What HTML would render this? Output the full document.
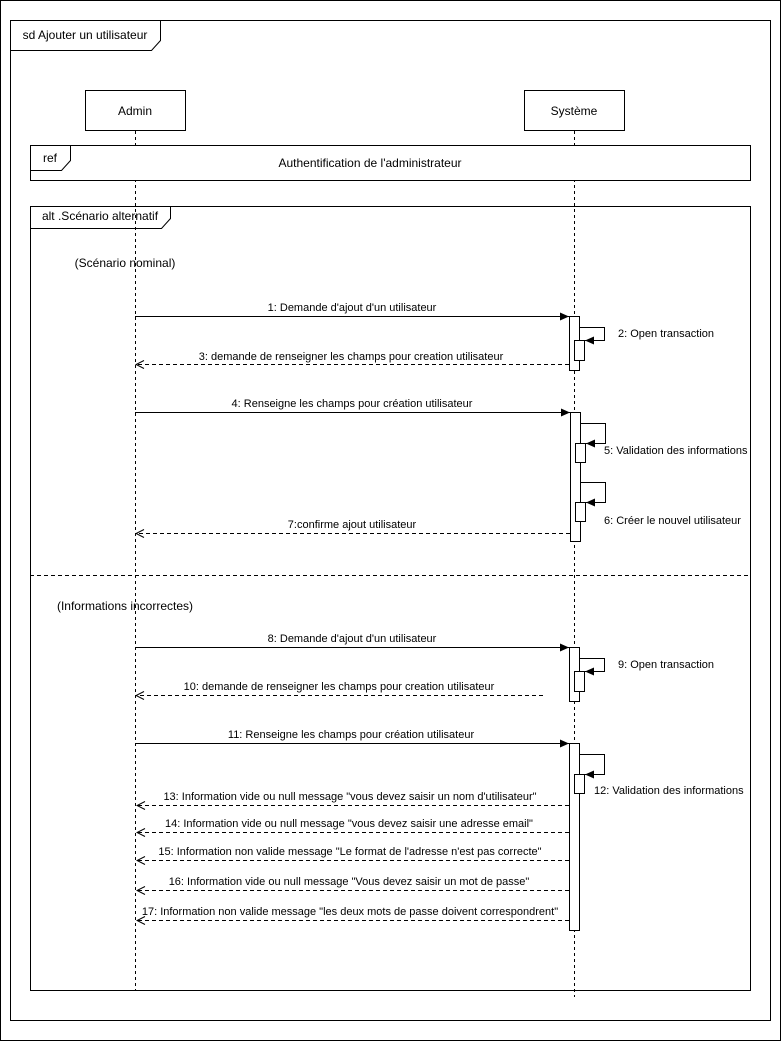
<!DOCTYPE html>
<html><head><meta charset="utf-8"><style>html,body{margin:0;padding:0;background:#fff}svg{display:block}text{font-family:"Liberation Sans",sans-serif;fill:#000}</style></head><body>
<svg width="781" height="1041" viewBox="0 0 781 1041" xmlns="http://www.w3.org/2000/svg">
<defs>
<marker id="f" markerWidth="10" markerHeight="8" refX="9" refY="4" orient="auto" markerUnits="userSpaceOnUse"><path d="M0,0 L9,4 L0,8 Z" fill="#000"/></marker>
<marker id="o" markerWidth="10" markerHeight="10" refX="9" refY="5" orient="auto" markerUnits="userSpaceOnUse"><path d="M1,1 L9,5 L1,9" fill="none" stroke="#000"/></marker>
</defs>
<rect x="0.5" y="0.5" width="780" height="1040" fill="#fff" stroke="#000"/>
<rect x="10.5" y="20.5" width="760" height="1000" fill="none" stroke="#000"/>
<path d="M10.5,20.5 H160.5 V40.5 L151.5,50.5 H10.5" fill="none" stroke="#000"/>
<text x="85" y="39" font-size="12" text-anchor="middle">sd Ajouter un utilisateur</text>
<rect x="85.5" y="90.5" width="100" height="40" fill="#fff" stroke="#000"/>
<text x="135" y="115" font-size="12" text-anchor="middle">Admin</text>
<rect x="524.5" y="90.5" width="100" height="40" fill="#fff" stroke="#000"/>
<text x="574" y="115" font-size="12" text-anchor="middle">Système</text>
<line x1="135.5" y1="131" x2="135.5" y2="990" stroke="#000" stroke-dasharray="3,3"/>
<line x1="574.5" y1="131" x2="574.5" y2="997" stroke="#000" stroke-dasharray="3,3"/>
<rect x="30.5" y="145.5" width="720" height="35" fill="#fff" stroke="#000"/>
<path d="M30.5,145.5 H70.5 V160.5 L61.5,170.5 H30.5" fill="none" stroke="#000"/>
<text x="50" y="162" font-size="12" text-anchor="middle">ref</text>
<text x="370" y="167" font-size="12" text-anchor="middle">Authentification de l'administrateur</text>
<rect x="30.5" y="206.5" width="720" height="784" fill="none" stroke="#000"/>
<path d="M30.5,206.5 H170.5 V218.5 L161.5,228.5 H30.5" fill="none" stroke="#000"/>
<text x="100" y="220" font-size="12" text-anchor="middle">alt .Scénario alternatif</text>
<text x="125" y="267" font-size="12" text-anchor="middle">(Scénario nominal)</text>
<line x1="30" y1="575.5" x2="750" y2="575.5" stroke="#000" stroke-dasharray="4,3"/>
<text x="125" y="610" font-size="12" text-anchor="middle">(Informations incorrectes)</text>
<g fill="#fff" stroke="#000">
<rect x="569.5" y="316.5" width="10" height="54"/>
<rect x="574.5" y="340.5" width="10" height="20"/>
<rect x="570.5" y="412.5" width="10" height="129"/>
<rect x="575.5" y="443.5" width="10" height="19"/>
<rect x="575.5" y="502.5" width="10" height="19"/>
<rect x="569.5" y="647.5" width="10" height="54"/>
<rect x="574.5" y="671.5" width="10" height="20"/>
<rect x="569.5" y="743.5" width="10" height="187"/>
<rect x="574.5" y="774.5" width="10" height="19"/>
</g>
<g fill="none" stroke="#000">
<path d="M579.5,327.5 H604.5 V340.5 H585" marker-end="url(#f)"/>
<path d="M580.5,423.5 H605.5 V443.5 H586" marker-end="url(#f)"/>
<path d="M580.5,482.5 H605.5 V502.5 H586" marker-end="url(#f)"/>
<path d="M579.5,658.5 H604.5 V671.5 H585" marker-end="url(#f)"/>
<path d="M579.5,754.5 H604.5 V774.5 H585" marker-end="url(#f)"/>
<line x1="135" y1="316.5" x2="569" y2="316.5" marker-end="url(#f)"/>
<line x1="135" y1="412.5" x2="570" y2="412.5" marker-end="url(#f)"/>
<line x1="135" y1="647.5" x2="569" y2="647.5" marker-end="url(#f)"/>
<line x1="135" y1="743.5" x2="569" y2="743.5" marker-end="url(#f)"/>
<g stroke-dasharray="4,3">
<line x1="569" y1="364.5" x2="136" y2="364.5" marker-end="url(#o)"/>
<line x1="570" y1="533.5" x2="136" y2="533.5" marker-end="url(#o)"/>
<line x1="543" y1="695.5" x2="136" y2="695.5" marker-end="url(#o)"/>
<line x1="569" y1="805.5" x2="137" y2="805.5" marker-end="url(#o)"/>
<line x1="569" y1="832.5" x2="137" y2="832.5" marker-end="url(#o)"/>
<line x1="569" y1="860.5" x2="137" y2="860.5" marker-end="url(#o)"/>
<line x1="569" y1="890.5" x2="137" y2="890.5" marker-end="url(#o)"/>
<line x1="569" y1="920.5" x2="137" y2="920.5" marker-end="url(#o)"/>
</g>
</g>
<g font-size="11" text-anchor="middle">
<text x="352" y="311">1: Demande d'ajout d'un utilisateur</text>
<text x="351" y="360">3: demande de renseigner les champs pour creation utilisateur</text>
<text x="352" y="407">4: Renseigne les champs pour création utilisateur</text>
<text x="352" y="528">7:confirme ajout utilisateur</text>
<text x="352" y="642">8: Demande d'ajout d'un utilisateur</text>
<text x="339" y="690">10: demande de renseigner les champs pour creation utilisateur</text>
<text x="351" y="738">11: Renseigne les champs pour création utilisateur</text>
<text x="350" y="800">13: Information vide ou null message "vous devez saisir un nom d'utilisateur"</text>
<text x="349" y="827">14: Information vide ou null message "vous devez saisir une adresse email"</text>
<text x="350" y="855">15: Information non valide message "Le format de l'adresse n'est pas correcte"</text>
<text x="349" y="885">16: Information vide ou null message "Vous devez saisir un mot de passe"</text>
<text x="350" y="915">17: Information non valide message "les deux mots de passe doivent correspondrent"</text>
</g>
<g font-size="11">
<text x="618" y="337">2: Open transaction</text>
<text x="604" y="454">5: Validation des informations</text>
<text x="604" y="524">6: Créer le nouvel utilisateur</text>
<text x="618" y="668">9: Open transaction</text>
<text x="594" y="794">12: Validation des informations</text>
</g>
</svg>
</body></html>
